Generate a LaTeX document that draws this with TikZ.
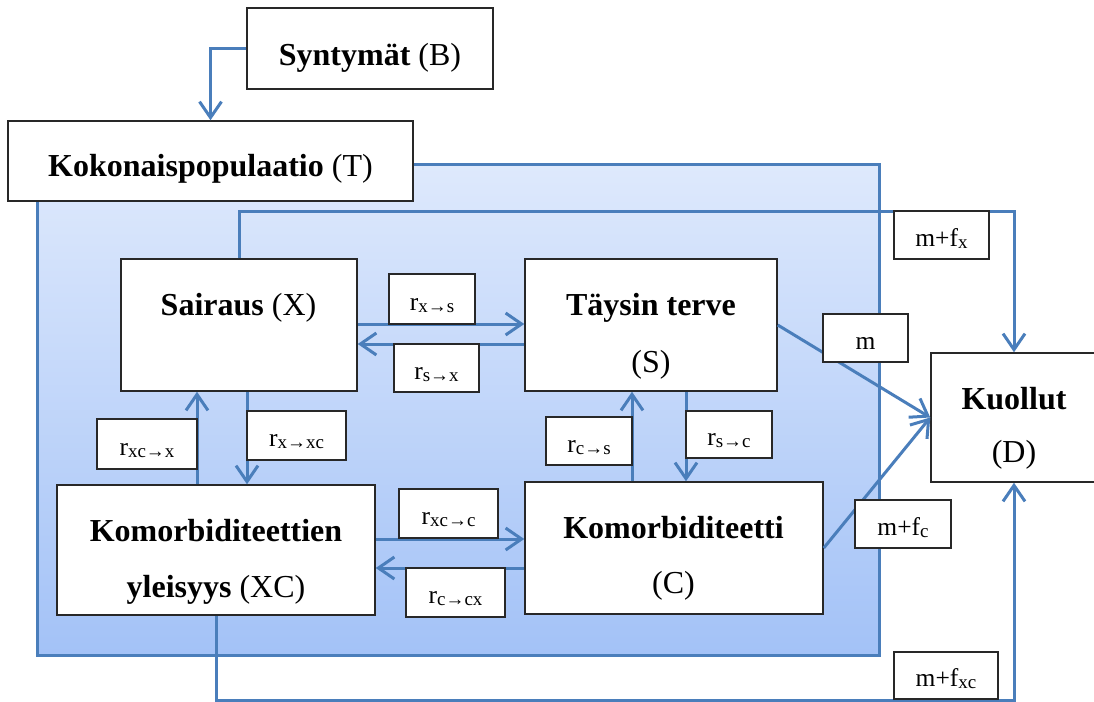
\documentclass[tikz,border=0pt]{standalone}
\usepackage{fontspec}
\setmainfont{Liberation Serif}
\usetikzlibrary{arrows.meta}
\definecolor{connblue}{RGB}{74,126,187}
\definecolor{boxline}{RGB}{40,40,40}
\definecolor{bgtop}{RGB}{222,233,252}
\definecolor{bgbot}{RGB}{163,194,247}
\newcommand\lsub[1]{\raisebox{-1pt}{\fontsize{9.5}{10}\selectfont #1}}
\newcommand\boxfont{\fontsize{16}{19}\selectfont}
\newcommand\lblfont{\fontsize{12.75}{15}\selectfont}
\newcommand\mkbox[7]{\node[#2, minimum width={0.5pt*(#5-#3)}, minimum height={0.5pt*(#6-#4)}] (#1) at ({(#3+#5)/2},{(#4+#6)/2}) {#7};}
\tikzset{
  box/.style={draw=boxline, fill=white, line width=0.75pt, inner sep=0pt},
  lbl/.style={draw=boxline, fill=white, line width=0.7pt, inner sep=0pt, font=\lblfont, text height=11pt, text depth=0pt},
  txt/.style={anchor=base, inner sep=0pt, font=\boxfont},
  conn/.style={draw=connblue, line width=1.5pt},
  arr/.style={conn, -{Straight Barb[length=8pt,width=11pt]}}
}
\begin{document}
\begin{tikzpicture}[x=0.5pt, y=-0.5pt]
\useasboundingbox (0,0) rectangle (1094,702);
% background population region
\shade[top color=bgtop, bottom color=bgbot] (37,164) rectangle (879,655);
\draw[conn] (37,164) rectangle (879,655);
% main boxes
\mkbox{B}{box}{247}{8}{493}{89}{}
\mkbox{T}{box}{8}{121}{413}{201}{}
\mkbox{X}{box}{121}{259}{357}{391}{}
\mkbox{S}{box}{525}{259}{777}{391}{}
\mkbox{XC}{box}{57}{485}{375}{615}{}
\mkbox{C}{box}{525}{482}{823}{614}{}
\mkbox{D}{box}{931}{353}{1097}{482}{}
% texts
\node[txt] (Bt) at (370,65) {\textbf{Syntymät} (B)};
\node[txt] (Tt) at (210.5,176) {\textbf{Kokonaispopulaatio} (T)};
\node[txt] (Xt) at (238.5,315) {\textbf{Sairaus} (X)};
\node[txt] (St1) at (651,315) {\textbf{Täysin terve}};
\node[txt] (St2) at (651,372) {(S)};
\node[txt] (XCt1) at (216,541) {\textbf{Komorbiditeettien}};
\node[txt] (XCt2) at (216,597) {\textbf{yleisyys} (XC)};
\node[txt] (Ct1) at (673.5,538) {\textbf{Komorbiditeetti}};
\node[txt] (Ct2) at (673.5,593) {(C)};
\node[txt] (Dt1) at (1014,409) {\textbf{Kuollut}};
\node[txt] (Dt2) at (1014,462) {(D)};
% connectors
\draw[arr] (B.west) -| (T.north);
\draw[arr] (X.north) -- (X.north |- 0,211) -| (D.north);
\draw[arr] (XC.south) -- (XC.south |- 0,700) -| (D.south);
\draw[arr] (X.east |- 0,324) -- (S.west |- 0,324);
\draw[arr] (S.west |- 0,344) -- (X.east |- 0,344);
\draw[arr] (S.south -| 686,0) -- (C.north -| 686,0);
\draw[arr] (C.north -| 632,0) -- (S.south -| 632,0);
\draw[arr] (X.south -| 247,0) -- (XC.north -| 247,0);
\draw[arr] (XC.north -| 197,0) -- (X.south -| 197,0);
\draw[arr] (XC.east |- 0,539) -- (C.west |- 0,539);
\draw[arr] (C.west |- 0,568) -- (XC.east |- 0,568);
\draw[arr] (S.east) -- (D.west);
\draw[arr] (C.east) -- (D.west);
% rate labels
\mkbox{Lxs}{lbl}{389}{274}{475}{324}{r\lsub{x→s}}
\mkbox{Lsx}{lbl}{394}{344}{479}{392}{r\lsub{s→x}}
\mkbox{Lcs}{lbl}{546}{417}{632}{465}{r\lsub{c→s}}
\mkbox{Lsc}{lbl}{686}{411}{772}{458}{r\lsub{s→c}}
\mkbox{Lxcx}{lbl}{97}{419}{197}{469}{r\lsub{xc→x}}
\mkbox{Lxxc}{lbl}{247}{411}{346}{460}{r\lsub{x→xc}}
\mkbox{Lxcc}{lbl}{399}{489}{498}{538}{r\lsub{xc→c}}
\mkbox{Lccx}{lbl}{406}{568}{505}{617}{r\lsub{c→cx}}
\mkbox{Lmfx}{lbl}{894}{211}{989}{259}{m+f\lsub{x}}
\mkbox{Lm}{lbl}{823}{314}{908}{362}{m\hspace{12.5pt}}
\mkbox{Lmfc}{lbl}{855}{500}{951}{548}{m+f\lsub{c}}
\mkbox{Lmfxc}{lbl}{894}{652}{998}{699}{m+f\lsub{xc}}
\end{tikzpicture}
\end{document}
